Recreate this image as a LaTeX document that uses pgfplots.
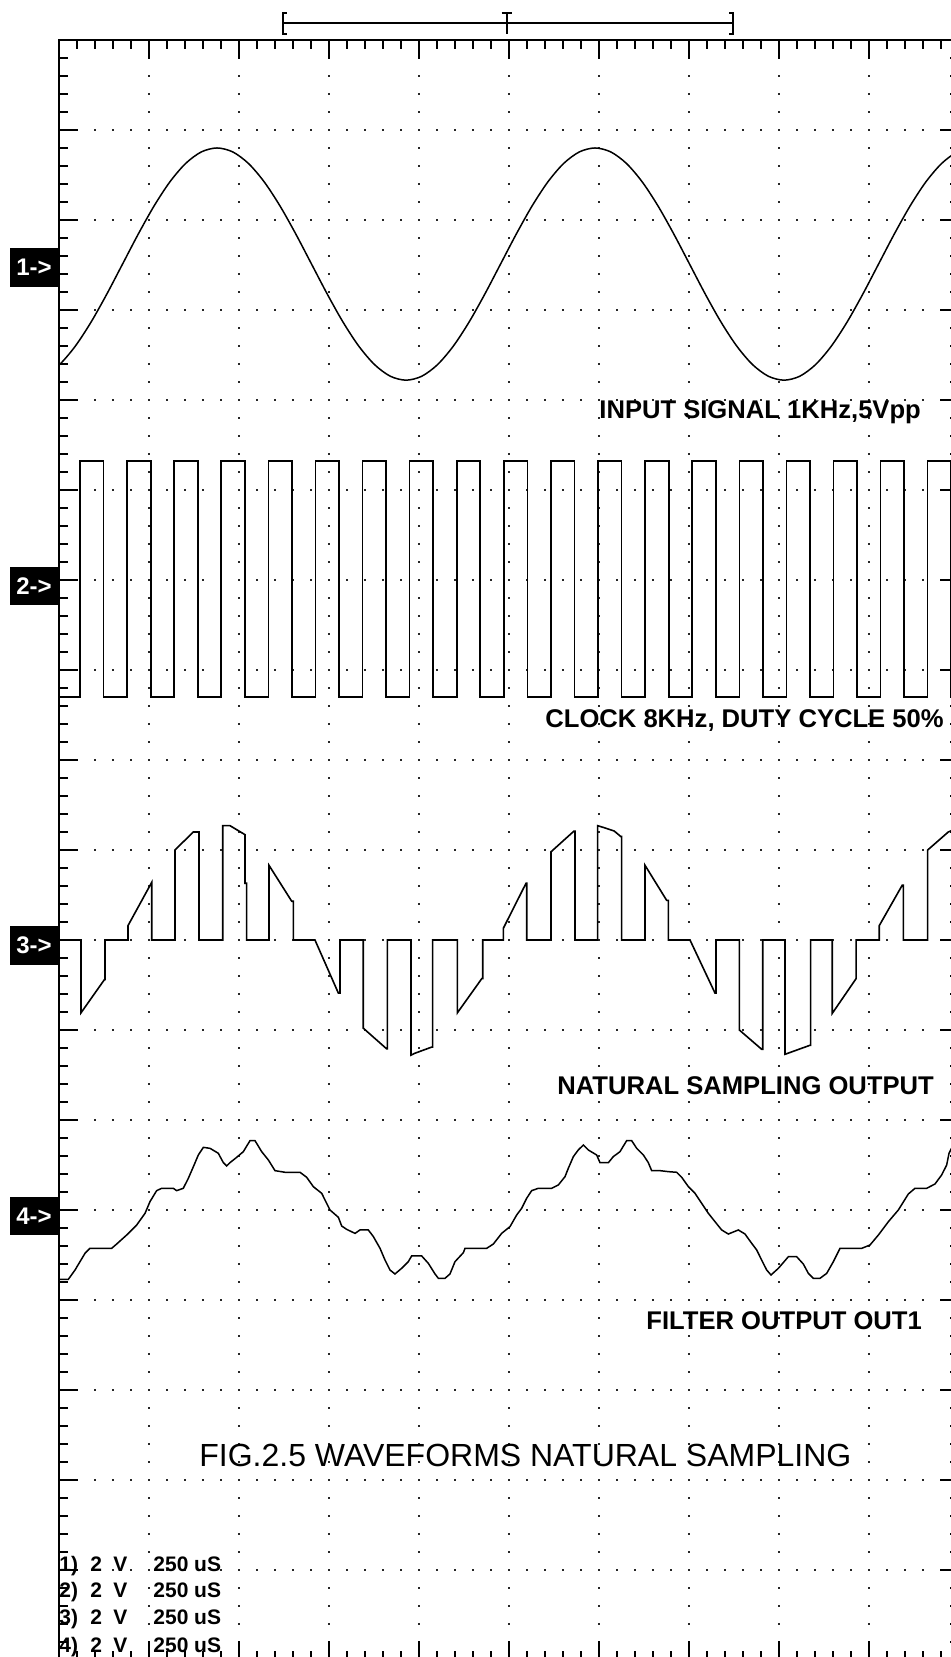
\documentclass[border=0pt]{standalone}
\usepackage{fontspec}
\setmainfont{Liberation Sans}
\usepackage{pgfplots}
\pgfplotsset{compat=1.18}

\begin{document}
\begin{tikzpicture}
\useasboundingbox (-29.5pt,1.5pt) rectangle (445.5pt,830pt);
\begin{axis}[
  at={(0pt,0pt)}, anchor=south west,
  width=450pt, height=810pt, scale only axis,
  xmin=0, xmax=10, ymin=0, ymax=18,
  xtick={0,...,10}, ytick={0,...,18},
  minor x tick num=4, minor y tick num=4,
  xticklabels={}, yticklabels={},
  xtick pos=both, ytick pos=both,
  tick align=inside,
  major tick length=9.5pt, minor tick length=4.5pt,
  every tick/.style={black, line width=0.9pt},
  axis line style={black, line width=1pt},
  grid=major,
  major grid style={black!85, line width=1pt, dash pattern=on 1pt off 8pt, dash phase=0.5pt},
]
% CH1 input sine
\addplot[black, line width=0.75pt, smooth] coordinates {
(-0.169,14.264)(0.006,14.393)(0.181,14.598)(0.356,14.865)(0.531,15.176)(0.706,15.510)
(0.881,15.844)(1.056,16.155)(1.231,16.422)(1.406,16.627)(1.581,16.756)(1.756,16.800)
(1.931,16.756)(2.106,16.627)(2.281,16.422)(2.456,16.155)(2.631,15.844)(2.806,15.510)
(2.981,15.176)(3.156,14.865)(3.331,14.598)(3.506,14.393)(3.681,14.264)(3.856,14.220)
(4.031,14.264)(4.206,14.393)(4.381,14.598)(4.556,14.865)(4.731,15.176)(4.906,15.510)
(5.081,15.844)(5.256,16.155)(5.431,16.422)(5.606,16.627)(5.781,16.756)(5.956,16.800)
(6.131,16.756)(6.306,16.627)(6.481,16.422)(6.656,16.155)(6.831,15.844)(7.006,15.510)
(7.181,15.176)(7.356,14.865)(7.531,14.598)(7.706,14.393)(7.881,14.264)(8.056,14.220)
(8.231,14.264)(8.406,14.393)(8.581,14.598)(8.756,14.865)(8.931,15.176)(9.106,15.510)
(9.281,15.844)(9.456,16.155)(9.631,16.422)(9.806,16.627)(9.981,16.756)(10.156,16.800)
};
% CH2 clock
\addplot[black, line width=0.8pt] coordinates {
(0,10.70)
(0.233,10.70)(0.233,13.32)(0.495,13.32)(0.495,10.70)
(0.757,10.70)(0.757,13.32)(1.019,13.32)(1.019,10.70)
(1.280,10.70)(1.280,13.32)(1.542,13.32)(1.542,10.70)
(1.803,10.70)(1.803,13.32)(2.065,13.32)(2.065,10.70)
(2.326,10.70)(2.326,13.32)(2.588,13.32)(2.588,10.70)
(2.850,10.70)(2.850,13.32)(3.112,13.32)(3.112,10.70)
(3.373,10.70)(3.373,13.32)(3.635,13.32)(3.635,10.70)
(3.896,10.70)(3.896,13.32)(4.158,13.32)(4.158,10.70)
(4.419,10.70)(4.419,13.32)(4.681,13.32)(4.681,10.70)
(4.943,10.70)(4.943,13.32)(5.205,13.32)(5.205,10.70)
(5.466,10.70)(5.466,13.32)(5.728,13.32)(5.728,10.70)
(5.989,10.70)(5.989,13.32)(6.251,13.32)(6.251,10.70)
(6.513,10.70)(6.513,13.32)(6.775,13.32)(6.775,10.70)
(7.036,10.70)(7.036,13.32)(7.298,13.32)(7.298,10.70)
(7.559,10.70)(7.559,13.32)(7.821,13.32)(7.821,10.70)
(8.082,10.70)(8.082,13.32)(8.344,13.32)(8.344,10.70)
(8.606,10.70)(8.606,13.32)(8.868,13.32)(8.868,10.70)
(9.129,10.70)(9.129,13.32)(9.391,13.32)(9.391,10.70)
(9.652,10.70)(9.652,13.32)(9.914,13.32)(9.914,10.70)
(10,10.70)
};
% CH3 natural sampling output
\addplot[black, line width=0.8pt] coordinates {
(0,8.0)
(0.244,8.0)(0.244,7.19)(0.505,7.56)(0.511,7.56)(0.511,8.0)
(0.767,8.0)(0.767,8.16)(1.030,8.64)(1.030,8.0)
(1.289,8.0)(1.289,9.0)(1.492,9.20)(1.556,9.20)(1.556,8.0)
(1.819,8.0)(1.819,9.27)(1.900,9.27)(2.067,9.17)(2.067,8.63)(2.085,8.63)(2.085,8.0)
(2.333,8.0)(2.333,8.83)(2.586,8.43)(2.604,8.43)(2.604,8.0)
(2.844,8.0)(3.104,7.41)(3.122,7.41)(3.122,8.0)
(3.381,8.0)(3.381,7.02)(3.641,6.79)(3.648,6.79)(3.648,8.0)
(3.911,8.0)(3.911,6.72)(3.950,6.74)(4.141,6.81)(4.152,6.81)(4.152,8.0)
(4.426,8.0)(4.426,7.19)(4.697,7.57)(4.708,7.57)(4.708,8.0)
(4.937,8.0)(4.937,8.13)(5.189,8.63)(5.197,8.63)(5.197,8.0)
(5.467,8.0)(5.467,8.98)(5.722,9.21)(5.733,9.21)(5.733,8.0)
(5.985,8.0)(5.985,9.27)(6.050,9.25)(6.170,9.21)(6.241,9.15)(6.252,9.15)(6.252,8.0)
(6.511,8.0)(6.511,8.83)(6.752,8.44)(6.770,8.44)(6.770,8.0)
(7.011,8.0)(7.289,7.41)(7.300,7.41)(7.300,8.0)
(7.559,8.0)(7.559,7.00)(7.808,6.785)(7.819,6.785)(7.819,8.0)
(8.067,8.0)(8.067,6.73)(8.344,6.83)(8.352,6.83)(8.352,8.0)
(8.592,8.0)(8.592,7.185)(8.856,7.57)(8.856,8.0)
(9.114,8.0)(9.114,8.16)(9.370,8.61)(9.381,8.61)(9.381,8.0)
(9.652,8.0)(9.652,9.0)(9.881,9.2)(10.0,9.25)
};
% CH4 filter output
\addplot[black, line width=0.75pt] coordinates {
(0.0,4.23)(0.104,4.230)(0.178,4.333)(0.289,4.519)(0.344,4.574)(0.585,4.574)(0.641,4.622)
(0.752,4.722)(0.863,4.833)(0.956,4.963)(1.011,5.093)(1.085,5.215)(1.141,5.241)(1.270,5.241)
(1.307,5.215)(1.381,5.241)(1.437,5.352)(1.493,5.481)(1.548,5.611)(1.604,5.696)(1.678,5.685)
(1.770,5.630)(1.826,5.526)(1.863,5.489)(1.900,5.526)(1.974,5.585)(2.048,5.648)(2.122,5.770)
(2.178,5.770)(2.252,5.648)(2.326,5.556)(2.400,5.437)(2.511,5.419)(2.678,5.419)(2.752,5.363)
(2.826,5.259)(2.919,5.185)(3.011,5.000)(3.104,4.919)(3.141,4.822)(3.196,4.785)(3.289,4.740)
(3.344,4.778)(3.437,4.778)(3.493,4.704)(3.567,4.574)(3.622,4.444)(3.678,4.333)(3.733,4.289)
(3.807,4.352)(3.881,4.426)(3.918,4.489)(4.030,4.489)(4.104,4.407)(4.178,4.289)(4.215,4.241)
(4.289,4.241)(4.344,4.289)(4.400,4.426)(4.493,4.526)(4.511,4.574)(4.752,4.574)(4.826,4.622)
(4.919,4.741)(5.011,4.815)(5.085,4.944)(5.141,5.019)(5.196,5.130)(5.252,5.215)(5.326,5.241)
(5.474,5.241)(5.548,5.278)(5.622,5.370)(5.659,5.463)(5.715,5.593)(5.770,5.667)(5.826,5.722)
(5.881,5.667)(5.974,5.611)(6.011,5.526)(6.104,5.526)(6.159,5.593)(6.233,5.648)(6.307,5.770)
(6.363,5.770)(6.419,5.685)(6.493,5.611)(6.548,5.526)(6.585,5.437)(6.678,5.437)(6.770,5.426)
(6.863,5.419)(6.919,5.363)(6.993,5.259)(7.067,5.185)(7.141,5.074)(7.215,4.963)(7.289,4.870)
(7.363,4.778)(7.437,4.733)(7.548,4.778)(7.622,4.733)(7.696,4.630)(7.752,4.556)(7.807,4.444)
(7.863,4.333)(7.911,4.278)(7.993,4.352)(8.104,4.481)(8.196,4.481)(8.270,4.400)(8.326,4.296)
(8.381,4.241)(8.456,4.241)(8.530,4.296)(8.604,4.426)(8.678,4.574)(8.919,4.574)(9.011,4.611)
(9.104,4.722)(9.215,4.870)(9.326,5.000)(9.437,5.178)(9.511,5.241)(9.641,5.241)(9.733,5.289)
(9.807,5.389)(9.863,5.500)(9.889,5.630)(9.950,5.750)
};
\end{axis}

% channel markers
\foreach \n/\ylo/\yhi/\ymid in {1/686.5/706/696.25, 2/527.5/546.5/537, 3/347.5/367/357.25, 4/212.5/231.5/222} {
  \fill[black] (-24.5pt,\ylo pt) rectangle (-0.5pt,\yhi pt);
  \node[white, inner sep=0, font=\bfseries\fontsize{12}{12}\selectfont] at (-12.5pt,\ymid pt) {\n->};
}

% labels
\node[anchor=base west, inner sep=0, font=\bfseries\fontsize{12.8}{14}\selectfont] at (270pt,620.5pt) {INPUT SIGNAL 1KHz,5Vpp};
\node[anchor=base west, inner sep=0, font=\bfseries\fontsize{12.8}{14}\selectfont] at (243pt,466pt) {CLOCK 8KHz, DUTY CYCLE 50\%};
\node[anchor=base west, inner sep=0, font=\bfseries\fontsize{12.8}{14}\selectfont] at (249pt,282.5pt) {NATURAL SAMPLING OUTPUT};
\node[anchor=base west, inner sep=0, font=\bfseries\fontsize{12.8}{14}\selectfont] at (293.5pt,165pt) {FILTER OUTPUT OUT1};
\node[anchor=base west, inner sep=0, font=\fontsize{16}{18}\selectfont] at (70pt,96.5pt) {FIG.2.5 WAVEFORMS NATURAL SAMPLING};

% bottom settings
\foreach \i/\yy in {1/44, 2/31, 3/17.5, 4/3.5} {
  \node[anchor=base west, inner sep=0, font=\bfseries\fontsize{10.5}{12}\selectfont] at (0pt,\yy pt) {\i)};
  \node[anchor=base west, inner sep=0, font=\bfseries\fontsize{10.5}{12}\selectfont] at (15.5pt,\yy pt) {2};
  \node[anchor=base west, inner sep=0, font=\bfseries\fontsize{10.5}{12}\selectfont] at (27pt,\yy pt) {V};
  \node[anchor=base west, inner sep=0, font=\bfseries\fontsize{10.5}{12}\selectfont] at (47pt,\yy pt) {250 uS};
}

% memory position bracket and trigger mark
\draw[line width=1pt] (112pt,818.3pt) -- (337pt,818.3pt);
\draw[line width=1pt] (113.8pt,823.3pt) -- (112pt,823.3pt) -- (112pt,812.8pt) -- (113.8pt,812.8pt);
\draw[line width=1pt] (335.2pt,823.3pt) -- (337pt,823.3pt) -- (337pt,812.8pt) -- (335.2pt,812.8pt);
\draw[line width=0.8pt] (224pt,823.3pt) -- (224pt,813pt);
\draw[line width=1pt] (221.3pt,823.3pt) -- (226.7pt,823.3pt);
\end{tikzpicture}
\end{document}
